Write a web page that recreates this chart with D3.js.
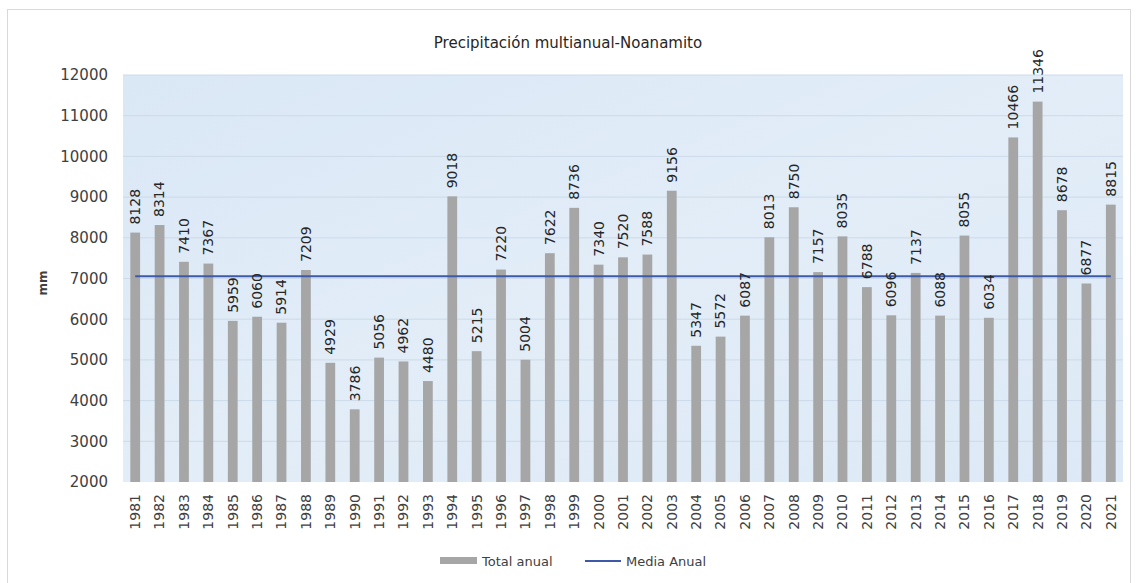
<!DOCTYPE html>
<html><head><meta charset="utf-8">
<script src="https://cdn.jsdelivr.net/npm/d3@7"></script>
<style>
body{margin:0;background:#fff;}
svg{display:block;}
</style></head>
<body>
<svg id="chart" width="1137" height="583"></svg>
<script>
const years = ["1981","1982","1983","1984","1985","1986","1987","1988","1989","1990","1991","1992","1993","1994","1995","1996","1997","1998","1999","2000","2001","2002","2003","2004","2005","2006","2007","2008","2009","2010","2011","2012","2013","2014","2015","2016","2017","2018","2019","2020","2021"];
const totalAnual = [8128,8314,7410,7367,5959,6060,5914,7209,4929,3786,5056,4962,4480,9018,5215,7220,5004,7622,8736,7340,7520,7588,9156,5347,5572,6087,8013,8750,7157,8035,6788,6096,7137,6088,8055,6034,10466,11346,8678,6877,8815];
const mediaAnual = [7057];
const yTicks = [2000,3000,4000,5000,6000,7000,8000,9000,10000,11000,12000];
const title = "Precipitación multianual-Noanamito";
const yLabel = "mm";
const legendLabels = ["Total anual","Media Anual"];

const svg = d3.select("#chart");
const F = "'DejaVu Sans', sans-serif";

// outer frame
svg.append("rect").attr("x",7.5).attr("y",9.5).attr("width",1123).attr("height",580)
  .attr("fill","#fff").attr("stroke","#d9d9d9").attr("stroke-width",1);

const x = d3.scaleBand().domain(years).range([123,1123]).paddingInner(0.6).paddingOuter(0.3);
const y = d3.scaleLinear().domain([2000,12000]).range([482,75]);

// plot background
const defs = svg.append("defs");
const grad = defs.append("linearGradient").attr("id","bg").attr("x1","0").attr("y1","0").attr("x2","1").attr("y2","1");
grad.append("stop").attr("offset","0").attr("stop-color","#dae7f5");
grad.append("stop").attr("offset","0.5").attr("stop-color","#e2edf8");
grad.append("stop").attr("offset","1").attr("stop-color","#dde9f6");
svg.append("rect").attr("x",123).attr("y",y(12000)).attr("width",1000).attr("height",y(2000)-y(12000))
  .attr("fill","url(#bg)");

// gridlines
svg.append("g").selectAll("line").data(yTicks.slice(1)).join("line")
  .attr("x1",123).attr("x2",1123).attr("y1",d=>y(d)).attr("y2",d=>y(d))
  .attr("stroke","#ccdae9").attr("stroke-width",1);

// y axis
const yAxis = svg.append("g").attr("transform","translate(123,0)")
  .call(d3.axisLeft(y).tickValues(yTicks).tickFormat(d3.format("d")).tickSize(0).tickPadding(15));
yAxis.select(".domain").remove();
yAxis.selectAll("text").attr("font-family",F).attr("font-size","15px").attr("fill","#404040");

// x axis
const xAxis = svg.append("g").attr("transform","translate(0,482)")
  .call(d3.axisBottom(x).tickSize(0));
xAxis.select(".domain").remove();
xAxis.selectAll("text").attr("font-family",F).attr("font-size","14px").attr("fill","#404040")
  .attr("transform","rotate(-90)").attr("text-anchor","end").attr("dx","-12px").attr("dy","0.35em").attr("y",0).attr("x",0);

// bars
svg.append("g").selectAll("rect").data(totalAnual).join("rect")
  .attr("x",(d,i)=>x(years[i])).attr("width",x.bandwidth())
  .attr("y",d=>y(d)).attr("height",d=>y(2000)-y(d)).attr("fill","#a6a6a6");

// mean line
svg.append("g").selectAll("line").data(mediaAnual).join("line")
  .attr("x1",x(years[0])+x.bandwidth()/2).attr("x2",x(years[years.length-1])+x.bandwidth()/2)
  .attr("y1",d=>y(d)).attr("y2",d=>y(d)).attr("stroke","#3d5aa8").attr("stroke-width",2);

// data labels
svg.append("g").selectAll("text").data(totalAnual).join("text")
  .attr("transform",(d,i)=>`translate(${x(years[i])+x.bandwidth()/2},${y(d)-8}) rotate(-90)`)
  .attr("dy","0.35em").attr("text-anchor","start")
  .attr("font-family",F).attr("font-size","14px").attr("fill","#262626")
  .text(d=>d);

// title
svg.append("text").attr("x",568).attr("y",48).attr("text-anchor","middle")
  .attr("font-family",F).attr("font-size","15px").attr("fill","#262626").text(title);

// y label
svg.append("text").attr("transform","translate(47,283) rotate(-90)").attr("text-anchor","middle")
  .attr("font-family",F).attr("font-size","12px").attr("font-weight","bold").attr("fill","#404040").text(yLabel);

// legend
const lg = svg.append("g");
lg.append("rect").attr("x",440).attr("y",557).attr("width",37).attr("height",7).attr("fill","#a6a6a6");
lg.append("text").attr("x",482).attr("y",566).attr("font-family",F).attr("font-size","13px").attr("fill","#404040").text(legendLabels[0]);
lg.append("line").attr("x1",585).attr("x2",621).attr("y1",561).attr("y2",561).attr("stroke","#3d5aa8").attr("stroke-width",2);
lg.append("text").attr("x",626).attr("y",566).attr("font-family",F).attr("font-size","13px").attr("fill","#404040").text(legendLabels[1]);
</script>
</body></html>
